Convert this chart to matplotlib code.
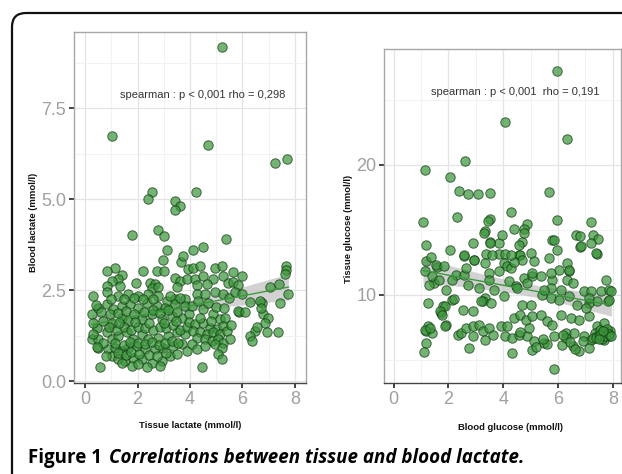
import numpy as np
import matplotlib
matplotlib.use("Agg")
import matplotlib.pyplot as plt
from matplotlib.patches import FancyBboxPatch
from matplotlib.transforms import IdentityTransform

# ---- data ----
# left panel: tissue lactate (x) vs blood lactate (y)
lac_tissue = [
    5.22, 1.03, 4.68, 7.23, 7.68, 2.54, 2.39, 4.23, 3.42, 3.62, 3.42, 1.78, 2.77, 3.00, 5.37,
    3.11, 2.98, 3.66, 3.74, 3.94, 1.14, 0.83, 2.22, 2.73, 3.02, 1.40, 1.27, 1.02, 0.83, 1.94,
    2.48, 2.67, 2.56, 2.79, 3.43, 3.62, 3.87, 3.49, 1.33,
    4.13, 4.48, 4.13, 4.38, 4.95, 5.21, 5.65, 5.97, 4.19, 4.51, 4.89, 5.27, 5.46, 5.65, 5.84,
    4.64, 4.26, 7.66, 7.66, 7.62, 7.05, 7.40,
    0.32, 0.83, 1.27, 1.65, 2.03, 2.41, 2.79, 3.11, 3.43, 3.81,
    0.25, 0.51, 0.83, 1.08, 1.40, 1.71, 2.03, 2.35, 2.73, 3.05, 3.43, 3.81,
    1.02, 1.40, 1.65, 2.16, 2.54, 2.92, 3.30, 3.68,
    0.25, 0.51, 0.83, 1.02, 1.27, 1.59, 1.84, 2.16, 2.41, 2.79, 3.17, 3.49, 3.81,
    0.51, 0.89, 1.14, 1.40, 1.65, 1.97, 2.29, 2.67, 2.98, 3.36, 3.68, 3.87,
    1.02, 1.27, 1.52, 1.84, 2.16, 2.54, 2.92, 3.24, 3.49,
    1.40, 1.78, 2.03, 2.35, 2.86, 0.57,
    0.45, 0.90, 1.20, 1.50, 1.75, 2.00, 2.30, 2.60, 2.85, 3.10, 3.35, 3.60, 3.90,
    0.70, 1.15, 1.50, 1.70, 2.00, 2.30, 2.55, 2.80, 3.05, 3.30, 3.55,
    0.80, 1.25, 1.55, 1.75, 2.05, 2.45, 2.75, 3.10,
    0.60, 0.95, 1.25, 1.55, 1.85, 2.25, 2.60, 2.85, 3.15, 3.50, 3.95,
    1.00, 1.50, 1.85, 2.20, 2.60, 3.25, 3.60,
    0.70, 1.30, 1.90, 2.45, 3.00, 3.45, 3.95,
    0.30, 0.45, 0.30, 0.40,
    4.25, 4.57, 4.95, 5.27,
    4.06, 4.51, 4.89, 5.14, 5.33, 5.88, 6.29, 6.73, 7.43, 7.75,
    4.19, 4.51, 4.76, 5.02, 5.27,
    4.13, 4.38, 4.63, 4.89, 5.14, 5.40,
    4.25, 4.57, 4.83, 5.08, 5.27, 5.52,
    4.06, 4.25, 4.57, 4.95, 5.21,
    5.08, 5.21,
    6.79, 6.98, 6.86, 6.48, 6.29, 6.35, 6.92, 7.37,
    4.44, 6.67, 5.84,
    4.30, 4.70, 5.00, 5.50, 5.70, 6.00, 5.30, 4.80, 5.55, 4.40, 6.10, 6.55, 6.70,
]
lac_blood = [
    9.20, 6.73, 6.49, 6.00, 6.12, 5.21, 5.02, 5.21, 4.94, 4.81, 4.70, 4.02, 4.16, 3.98, 3.92,
    3.61, 3.32, 3.28, 3.43, 3.08, 3.12, 3.03, 3.03, 3.03, 3.03, 2.91, 2.80, 2.76, 2.62, 2.71,
    2.71, 2.66, 2.57, 2.60, 2.85, 2.76, 2.80, 2.60, 2.62,
    3.61, 3.69, 3.12, 3.17, 3.12, 3.17, 3.00, 2.89, 2.80, 2.89, 2.80, 2.89, 2.71, 2.73, 2.64,
    2.66, 2.64, 3.17, 3.06, 2.94, 2.60, 2.66,
    2.34, 2.44, 2.34, 2.39, 2.34, 2.39, 2.34, 2.21, 2.25, 2.25,
    1.84, 2.02, 2.12, 1.98, 2.07, 2.12, 2.02, 2.16, 2.07, 2.02, 2.12, 2.07,
    1.61, 1.75, 1.66, 1.70, 1.84, 1.70, 1.79, 1.75,
    1.15, 1.15, 1.34, 1.15, 1.25, 1.34, 1.15, 1.29, 1.15, 1.20, 1.25, 1.34, 1.29,
    0.90, 0.88, 0.92, 0.83, 0.92, 0.97, 0.88, 0.88, 0.92, 0.97, 1.02, 0.83,
    0.70, 0.60, 0.56, 0.65, 0.60, 0.51, 0.56, 0.70, 0.74,
    0.51, 0.42, 0.47, 0.38, 0.42, 0.40,
    1.45, 1.50, 1.42, 1.48, 1.40, 1.50, 1.45, 1.40, 1.50, 1.45, 1.55, 1.42, 1.50,
    1.05, 1.05, 1.00, 1.08, 1.05, 1.02, 1.08, 1.00, 1.05, 1.10, 1.05,
    0.70, 0.78, 0.72, 0.80, 0.75, 0.72, 0.70, 0.78,
    1.90, 1.85, 1.88, 1.92, 1.85, 1.90, 1.95, 1.88, 1.95, 1.90, 1.85,
    2.25, 2.25, 2.28, 2.25, 2.25, 2.35, 2.30,
    1.65, 1.60, 1.62, 1.60, 1.60, 1.65, 1.62,
    1.30, 0.95, 1.60, 2.10,
    2.39, 2.39, 2.44, 2.39,
    2.07, 1.98, 1.84, 1.70, 1.75, 1.90, 2.18, 2.14, 2.14, 2.39,
    1.57, 1.61, 1.47, 1.43, 1.52,
    1.38, 1.34, 1.29, 1.34, 1.29, 1.38,
    1.20, 1.15, 1.11, 1.15, 1.06, 1.15,
    1.02, 0.88, 0.97, 1.02, 0.92,
    0.74, 0.60,
    1.84, 1.75, 1.61, 1.38, 1.25, 1.11, 1.34, 1.34,
    0.40, 2.21, 1.93,
    2.20, 2.15, 2.05, 2.30, 2.45, 2.40, 2.00, 1.65, 1.55, 1.75, 1.90, 1.50, 2.00,
]

# right panel: blood glucose (x) vs tissue glucose (y)
glu_blood = [
    5.98, 4.06, 6.32, 1.15, 2.59, 2.07, 2.37, 2.70, 3.07, 3.53, 5.68, 1.07, 2.31, 3.53, 3.46,
    4.27, 4.88, 4.75, 4.41, 5.98, 7.22, 6.65, 6.81, 7.26, 7.47, 3.32, 1.18, 2.89, 3.53, 2.58,
    2.95, 3.38, 3.86, 5.79, 4.70, 6.81, 7.41, 4.08, 4.57, 5.12,
    1.14, 1.48, 1.30, 1.91, 2.28, 2.15, 2.58, 2.64, 2.70, 3.13, 3.32, 3.25, 3.68, 3.50, 3.50,
    3.86, 1.24, 1.79, 1.73, 2.15, 2.52, 2.89, 3.19, 3.56, 1.24, 1.18, 1.42, 1.91, 2.34, 2.46,
    2.64, 2.89, 2.89, 3.13, 3.25, 3.32, 3.50, 3.62, 3.93, 1.18, 1.12, 2.77,
    2.92, 2.56, 3.60, 3.35, 4.02, 4.15, 4.63, 4.57, 3.84, 3.96, 3.29, 4.75, 3.51,
    2.19, 1.89, 1.70, 1.77, 1.15, 1.34, 1.89, 1.60,
    4.27, 4.21, 4.45, 4.76, 5.06, 4.02, 4.69, 5.00,
    5.79, 5.73, 6.04, 6.40, 6.34, 6.10, 6.53, 6.95, 7.20, 7.56, 7.87, 7.75,
    5.43, 5.73, 6.04, 6.40, 6.71, 7.14, 7.44, 7.81, 5.49,
    4.14, 4.39, 4.63, 4.82, 5.06, 5.37, 5.61, 5.79, 6.10, 6.47, 6.77, 7.14, 7.44, 7.69,
    4.08, 4.33, 4.57, 4.88, 5.12, 5.49, 5.85, 6.28, 6.59, 6.95, 7.20, 7.38, 7.56, 7.81, 7.69,
    4.33, 5.06, 6.16, 6.53, 6.77, 7.14, 6.28, 5.85, 7.01, 7.14,
    7.50, 7.65, 7.80, 7.90, 7.35, 7.93, 7.87,
    7.38, 7.20, 6.83, 5.85, 5.67, 5.98, 6.34, 6.40, 5.73,
    5.00, 4.70, 4.41, 4.27, 5.37, 5.06, 4.88, 4.51,
    7.45, 7.58, 7.72, 7.85, 7.62, 7.28, 7.78, 7.52, 6.45, 6.62, 5.60, 5.20,
    1.20, 1.35, 1.55, 1.85, 2.05, 1.40, 1.65,
    7.40, 7.55, 7.70, 7.88, 7.66, 7.48, 7.95, 6.90, 6.20, 5.45, 4.95, 4.60,
]
glu_tissue = [
    27.18, 23.28, 21.98, 19.62, 20.25, 19.05, 18.00, 17.75, 17.75, 17.82, 17.90, 15.56, 15.98, 15.85, 15.64,
    16.38, 15.44, 15.05, 15.05, 15.72, 15.56, 14.60, 14.54, 14.60, 14.28, 14.87, 13.79, 13.97, 14.03, 13.00,
    12.69, 13.15, 13.15, 14.18, 14.03, 13.67, 13.15, 13.15, 13.08, 12.62,
    11.85, 10.90, 10.77, 10.38, 11.54, 11.15, 11.54, 12.05, 10.77, 10.51, 9.74, 9.49, 10.38, 11.67, 11.15,
    11.79, 9.36, 9.10, 8.59, 9.62, 8.85, 8.72, 9.49, 9.36, 7.56, 7.18, 7.05, 7.69, 6.92, 7.05,
    7.44, 7.56, 6.79, 7.69, 7.18, 6.54, 7.44, 6.92, 7.56, 6.28, 5.59, 5.90,
    12.69, 13.08, 13.08, 12.44, 12.44, 12.18, 13.08, 13.85, 13.97, 14.60, 14.74, 14.74, 13.97,
    9.67, 9.10, 8.72, 8.46, 7.31, 7.44, 7.56, 12.10,
    12.05, 11.03, 10.64, 11.28, 11.41, 9.87, 9.23, 9.23,
    11.15, 10.51, 11.92, 11.80, 11.15, 10.39, 10.90, 10.26, 10.26, 10.26, 10.39, 11.15,
    10.00, 9.74, 9.62, 9.87, 9.23, 9.36, 9.49, 9.49, 10.39,
    7.57, 8.21, 8.46, 8.08, 8.34, 8.46, 7.95, 7.69, 8.46, 8.21, 8.08, 8.34, 7.57, 7.82,
    6.80, 6.67, 6.93, 6.80, 6.41, 6.28, 6.80, 7.05, 7.05, 6.80, 6.54, 6.80, 6.80, 7.05, 6.54,
    5.51, 5.77, 6.16, 6.03, 5.64, 5.90, 6.67, 4.31, 8.98, 9.74,
    7.00, 7.10, 6.90, 7.20, 7.05, 10.26, 9.55,
    13.20, 13.97, 13.72, 14.23, 12.82, 13.46, 12.44, 11.92, 11.67,
    13.20, 12.69, 12.49, 13.08, 11.41, 11.67, 10.90, 10.51,
    6.75, 6.95, 7.15, 6.85, 6.60, 6.70, 7.35, 7.25, 6.35, 5.80, 6.20, 5.95,
    12.60, 12.90, 12.30, 12.20, 13.40, 11.40, 11.10,
    6.65, 6.90, 6.80, 7.00, 7.20, 6.55, 6.85, 6.45, 6.90, 6.60, 7.40, 7.10,
]

note_left = "spearman : p < 0,001 rho = 0,298"
note_right = "spearman : p < 0,001  rho = 0,191"

# ---- styling ----
PT_FC, PT_EC = "#3d963d", "#0f3a0f"
LINE_C, BAND_C = "#3a9a3a", "#c4c4c4"
TICK_FONT = ["Liberation Sans Narrow", "Liberation Sans", "DejaVu Sans"]

fig = plt.figure(figsize=(6.22, 4.74), dpi=100)
W, H = 622, 474


def ax_px(x0, y0, x1, y1):
    return fig.add_axes([x0 / W, 1 - y1 / H, (x1 - x0) / W, (y1 - y0) / H])


def smooth(ax, x, y):
    x, y = np.asarray(x), np.asarray(y)
    b, a = np.polyfit(x, y, 1)
    n = len(x)
    res = y - (a + b * x)
    s = np.sqrt(np.sum(res ** 2) / (n - 2))
    xs = np.linspace(x.min(), x.max(), 80)
    se = s * np.sqrt(1 / n + (xs - x.mean()) ** 2 / np.sum((x - x.mean()) ** 2))
    fit = a + b * xs
    ax.fill_between(xs, fit - 1.96 * se, fit + 1.96 * se, color=BAND_C, alpha=0.75,
                    lw=0, zorder=2)
    ax.plot(xs, fit, color=LINE_C, lw=1.0, zorder=4)


def style(ax, xlim, ylim, yticks, yminor):
    ax.set_xlim(*xlim)
    ax.set_ylim(*ylim)
    ax.set_xticks([0, 2, 4, 6, 8])
    ax.set_xticks([1, 3, 5, 7], minor=True)
    ax.set_yticks(yticks)
    ax.set_yticks(yminor, minor=True)
    ax.grid(True, which="major", color="#e4e4e4", lw=0.9, zorder=0)
    ax.grid(True, which="minor", color="#f2f2f2", lw=0.7, zorder=0)
    ax.set_axisbelow(True)
    for sp in ax.spines.values():
        sp.set_color("#a8a8a8")
        sp.set_linewidth(1.0)
    ax.spines["bottom"].set_color("#444444")
    ax.tick_params(which="major", length=3.5, width=1.2, color="#222222",
                   labelcolor="#a0a0a0", labelsize=13, pad=2)
    ax.tick_params(which="minor", length=0)
    for lab in ax.get_xticklabels() + ax.get_yticklabels():
        lab.set_family(TICK_FONT)


# left panel
ax1 = ax_px(74, 32, 306, 383)
style(ax1, (-0.42, 8.42), (-0.05, 9.6), [0.0, 2.5, 5.0, 7.5], [1.25, 3.75, 6.25, 8.75])
ax1.set_yticklabels(["0.0", "2.5", "5.0", "7.5"])
smooth(ax1, lac_tissue, lac_blood)
ax1.scatter(lac_tissue, lac_blood, s=46, facecolor=PT_FC, edgecolor=PT_EC,
            linewidths=0.7, alpha=0.72, zorder=3)
ax1.text(4.5, 7.88, note_left, ha="center", va="center", fontsize=8,
         color="#333333", family=TICK_FONT)

# right panel
ax2 = ax_px(384, 49, 621, 383)
style(ax2, (-0.35, 8.3), (3.2, 28.9), [10, 20], [5, 15, 25])
smooth(ax2, glu_blood, glu_tissue)
ax2.scatter(glu_blood, glu_tissue, s=46, facecolor=PT_FC, edgecolor=PT_EC,
            linewidths=0.7, alpha=0.72, zorder=3)
ax2.text(4.43, 25.6, note_right, ha="center", va="center", fontsize=8,
         color="#333333", family=TICK_FONT)

# axis titles
lab = dict(fontsize=6.8, fontweight="bold", color="#111111",
           family=["Liberation Sans", "DejaVu Sans"])
fig.text(190 / W, 1 - 425 / H, "Tissue lactate (mmol/l)", ha="center", va="center", **lab)
fig.text(510 / W, 1 - 427 / H, "Blood glucose (mmol/l)", ha="center", va="center", **lab)
fig.text(33 / W, 1 - 222 / H, "Blood lactate (mmol/l)", ha="center", va="center",
         rotation=90, **lab)
fig.text(349 / W, 1 - 229 / H, "Tissue glucose (mmol/l)", ha="center", va="center",
         rotation=90, **lab)

# caption
cap_font = ["Open Sans", "DejaVu Sans"]
t1 = fig.text(28 / W, 1 - 458 / H, "Figure 1", ha="left", va="center", fontsize=13.5,
              fontweight="bold", family=cap_font)
r = fig.canvas.get_renderer()
bb = t1.get_window_extent(r)
fig.text(bb.x1 / W + 7 / W, 1 - 458 / H, "Correlations between tissue and blood lactate.",
         ha="left", va="center", fontsize=13.5, fontweight="bold", style="italic",
         family=cap_font)

# frame with rounded top-left corner
frame = FancyBboxPatch((12, -30), 660, H - 13 + 30,
                       boxstyle="round,pad=0,rounding_size=14",
                       transform=IdentityTransform(), fill=False,
                       edgecolor="#111111", lw=1.6)
fig.add_artist(frame)

fig.savefig("out.png", dpi=100)
